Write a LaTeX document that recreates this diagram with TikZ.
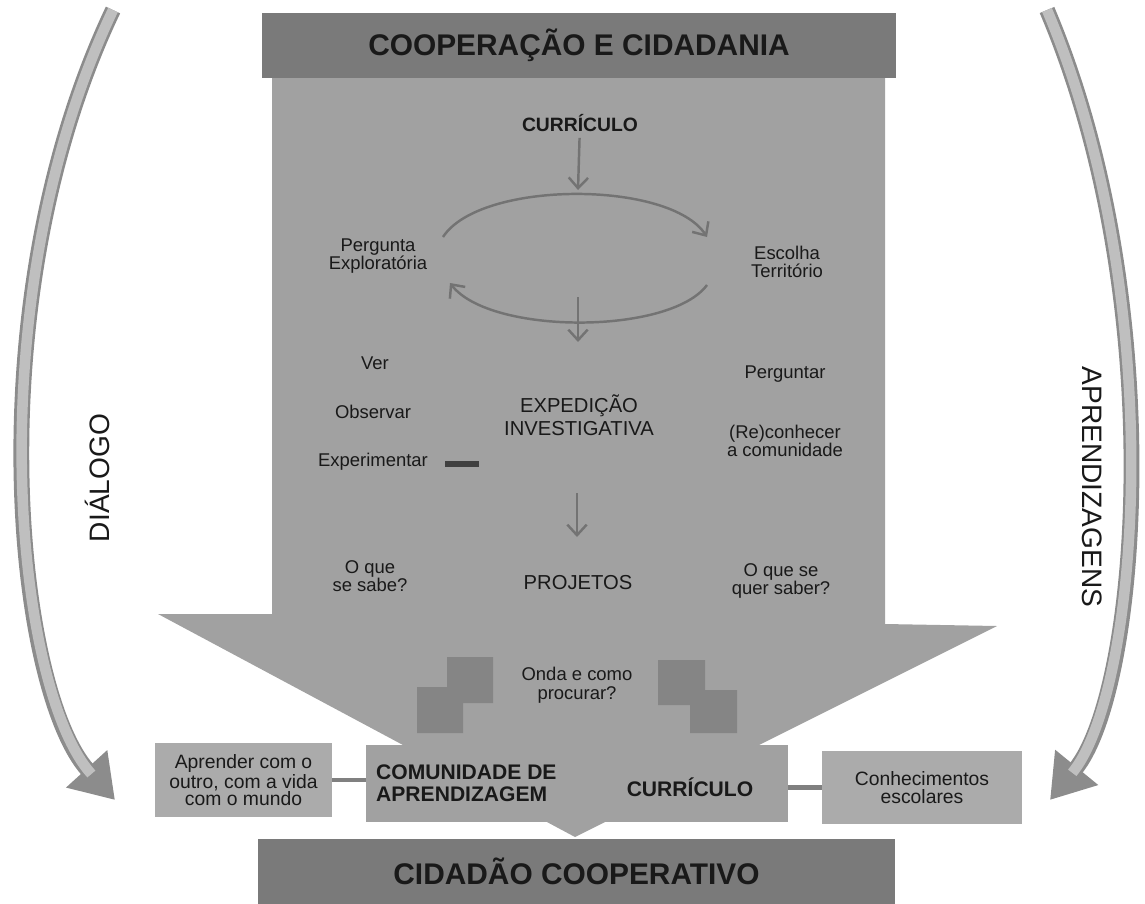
\documentclass[tikz,border=0pt]{standalone}
\usepackage{fontspec}
\setmainfont{Liberation Sans}
\usetikzlibrary{arrows.meta}

\colorlet{arrowgray}{black!37}
\colorlet{bargray}{black!52}
\colorlet{boxgray}{black!33}
\colorlet{inkgray}{black!55}

\begin{document}
\begin{tikzpicture}[x=0.02cm,y=-0.02cm,
		small/.style={font=\fontsize{10.5}{10.5}\selectfont,align=center,text=black!90},
		flow/.style={draw=inkgray,line width=1.4pt,-{Straight Barb[length=6pt,width=11pt]}},
		band/.style={draw=black!45,line width=9pt,-{Triangle[length=24pt,width=30pt]}},
		bandcore/.style={draw=black!25,line width=6pt,shorten >=20pt}]
			\useasboundingbox (0,0) rectangle (1145,903);
			
			% side arrows
			\coordinate (dtop) at (113,10);
			\coordinate (dend) at (115,800);
			\coordinate (atop) at (1047,10);
			\coordinate (aend) at (1050,800);
			\path[band] (dtop) .. controls (-25,300) and (15,690) .. (dend);
			\path[bandcore] (dtop) .. controls (-25,300) and (15,690) .. (dend);
			\path[band] (atop) .. controls (1170,300) and (1140,690) .. (aend);
			\path[bandcore] (atop) .. controls (1170,300) and (1140,690) .. (aend);
			\node[rotate=90,font=\fontsize{16}{16}\selectfont,text=black!90] (dial) at (97,478) {DIÁLOGO};
			\node[rotate=-90,font=\fontsize{16}{16}\selectfont,text=black!90] (apre) at (1092,487) {APRENDIZAGENS};
			
			% big arrow
			\fill[arrowgray] (272,78) -- (885,78) -- (885,624) -- (997,626) -- (575,837) -- (158,614) -- (272,614) -- cycle;
			\fill[black!55,fill opacity=.6] (447,657) rectangle (493,703) (417,687) rectangle (463,733);
			\fill[black!55,fill opacity=.6] (658,660) rectangle (705,705) (690,690) rectangle (737,733);
			
			\begin{scope}[every node/.style={fill=bargray,inner sep=0pt,text=black!90,font=\fontsize{17}{17}\selectfont\bfseries}]
				\node[minimum width=12.68cm,minimum height=1.3cm] (coop) at (579,45.5) {COOPERAÇÃO E CIDADANIA};
				\node[minimum width=12.74cm,minimum height=1.3cm] (cid) at (576.5,871) {CIDADÃO COOPERATIVO};
			\end{scope}
			
			\begin{scope}[every node/.style={fill=boxgray,inner sep=0pt,align=center,text=black!90,font=\fontsize{11}{10}\selectfont}]
				\node[minimum width=3.54cm,minimum height=1.48cm] (learn) at (243.5,780) {Aprender com o\\outro, com a vida\\com o mundo};
				\node[minimum width=8.44cm,minimum height=1.54cm,fill=arrowgray] (mainbox) at (577,783.5) {};
				\node[minimum width=4cm,minimum height=1.46cm] (know) at (922,787.5) {Conhecimentos\\escolares};
			\end{scope}
			\node[anchor=west,align=left,font=\fontsize{12}{12.5}\selectfont\bfseries,text=black!90] (comun) at (370,783) {COMUNIDADE DE\\APRENDIZAGEM};
			\node[font=\fontsize{12}{12}\selectfont\bfseries,text=black!90] (cur2) at (690,787) {CURRÍCULO};
			
			\begin{scope}[every edge/.style={draw=black!50,line width=2.5pt}]
				\path (learn.east) edge (learn.east -| mainbox.west);
				\path (know.west) edge (know.west -| mainbox.east);
			\end{scope}
			
			% texts in the shaft
			\node[font=\fontsize{11}{11}\selectfont\bfseries,text=black!90] (cur1) at (580,123) {CURRÍCULO};
			\node[small] (perg) at (378,256) {Pergunta\\Exploratória};
			\node[small] (esc) at (787,262) {Escolha\\Território};
			\node[small] (ver) at (375,363) {Ver};
			\node[small] (obs) at (373,412) {Observar};
			\node[small] (exper) at (373,462) {Experimentar};
			\fill[black!75] (445,461) rectangle (479,467);
			\node[align=center,font=\fontsize{11.5}{13}\selectfont,text=black!90] (expinv) at (579,415) {EXPEDIÇÃO\\INVESTIGATIVA};
			\node[small] (pergt) at (785,374) {Perguntar};
			\node[small] (recon) at (785,441) {(Re)conhecer\\a comunidade};
			\node[small] (sabe) at (370,576) {O que\\se sabe?};
			\node[font=\fontsize{11.5}{11.5}\selectfont,text=black!90] (proj) at (578,583) {PROJETOS};
			\node[small] (quer) at (781,581) {O que se\\quer saber?};
			\node[small] (onde) at (577,685) {Onda e como\\procurar?};
			
			% cycle
			\coordinate (ctop) at (578,190);
			\coordinate (l1) at (443,237);
			\coordinate (r1) at (707,237);
			\coordinate (r2) at (707,285);
			\coordinate (l2) at (450,283);
			\coordinate (b1) at (578,297);
			\coordinate (b2) at (578,342);
			\coordinate (e1) at (577,493);
			\coordinate (e2) at (577,537);
			\path[flow] (cur1) -- (ctop);
			\path[flow] (l1) .. controls (480,180) and (670,180) .. (r1);
			\path[flow] (r2) .. controls (670,335) and (490,335) .. (l2);
			\path[flow] (b1) -- (b2);
			\path[flow] (e1) -- (e2);
		\end{tikzpicture}
\end{document}
